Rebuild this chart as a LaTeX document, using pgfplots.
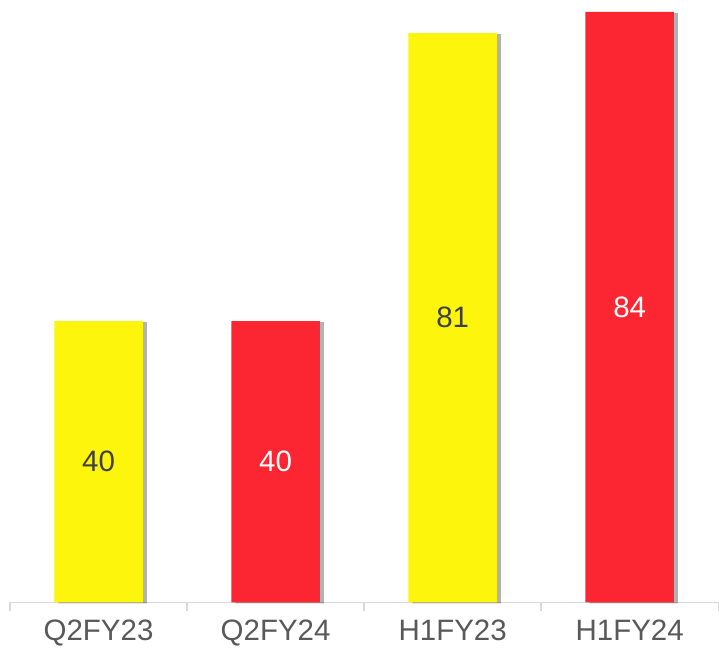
\documentclass[border=0pt]{standalone}
\usepackage{pgfplots}
\pgfplotsset{compat=1.18}
\usepackage{fontspec}
\setmainfont{Liberation Sans}
\usetikzlibrary{shadows}

\definecolor{barYellow}{HTML}{FDF50B}
\definecolor{barRed}{HTML}{FC2632}
\definecolor{labelGray}{HTML}{595959}
\definecolor{axisGray}{HTML}{D9D9D9}

\begin{document}
\begin{tikzpicture}
\begin{axis}[
    scale only axis,
    width=709pt, height=603pt,
    xmin=-0.5, xmax=3.5,
    ymin=0, ymax=85.7,
    axis x line*=bottom,
    axis y line=none,
    x axis line style={axisGray, line width=1.5pt},
    xtick={-0.5,0.5,1.5,2.5,3.5},
    x tick label as interval,
    xticklabels={Q2FY23,Q2FY24,H1FY23,H1FY24},
    xtick align=outside,
    major tick length=9pt,
    x tick style={axisGray, line width=1.5pt},
    xticklabel style={font=\fontsize{29.5}{33}\selectfont, text=labelGray, yshift=-5pt},
    /pgf/number format/assume math mode=true,
    ybar, bar width=0.5, bar shift=0pt,
    nodes near coords,
    visualization depends on=rawy\as\rawy,
    every node near coord/.append style={font=\fontsize{29.5}{33}\selectfont, anchor=center,
        shift={(axis direction cs:0,-\rawy/2)}},
    clip=false,
]
\addplot[fill=barYellow, draw=none,
    drop shadow={shadow xshift=4pt, shadow yshift=-1pt, fill=black, opacity=0.3},
    every node near coord/.append style={text=black!75}]
    coordinates {(0,40) (2,81)};
\addplot[fill=barRed, draw=none,
    drop shadow={shadow xshift=4pt, shadow yshift=-1pt, fill=black, opacity=0.3},
    every node near coord/.append style={text=white}]
    coordinates {(1,40) (3,84)};
\path (rel axis cs:0,1) -- (rel axis cs:1,1);
\end{axis}
\path (-10pt,0) (719-10pt,0);
\end{tikzpicture}
\end{document}
